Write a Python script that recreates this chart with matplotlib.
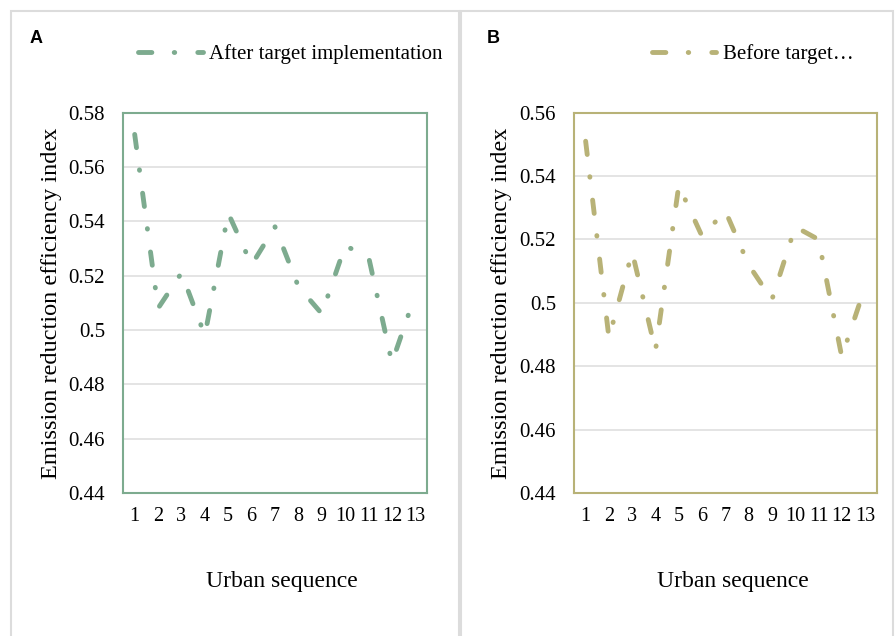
import matplotlib
matplotlib.use("Agg")
import matplotlib.pyplot as plt
from matplotlib.patches import Rectangle

# ---- data ----
urban_seq = list(range(1, 14))
after_vals = [0.572, 0.508, 0.521, 0.498, 0.543, 0.524, 0.538, 0.516, 0.506, 0.531, 0.527, 0.488, 0.513]
before_vals = [0.551, 0.489, 0.516, 0.485, 0.537, 0.521, 0.529, 0.512, 0.501, 0.524, 0.520, 0.483, 0.505]
a_yticks = [0.44, 0.46, 0.48, 0.50, 0.52, 0.54, 0.56, 0.58]
a_yticklabels = ["0.44", "0.46", "0.48", "0.5", "0.52", "0.54", "0.56", "0.58"]
b_yticks = [0.44, 0.46, 0.48, 0.50, 0.52, 0.54, 0.56]
b_yticklabels = ["0.44", "0.46", "0.48", "0.5", "0.52", "0.54", "0.56"]
xticklabels = [str(i) for i in urban_seq]
legend_a = "After target implementation"
legend_b = "Before target\u2026"
ylabel = "Emission reduction efficiency index"
xlabel = "Urban sequence"

W, H = 896, 636
DPI = 100
fig = plt.figure(figsize=(W / DPI, H / DPI), dpi=DPI)
fig.patch.set_facecolor("white")

SERIF = ["Liberation Serif", "DejaVu Serif"]
GREEN = "#7DAB8F"
OLIVE = "#B8B277"
GRID = "#DDDDDD"


def fx(px):
    return px / W


def fy(py):
    return 1 - py / H


# panel borders
for (x0, x1) in [(11, 458.5), (461, 893)]:
    fig.patches.append(Rectangle((fx(x0), fy(660)), fx(x1) - fx(x0), fy(11) - fy(660),
                                 transform=fig.transFigure, fill=False,
                                 edgecolor="#DCDCDC", linewidth=1.5, zorder=0))


def make_panel(left_px, right_px, vals, yticks, yticklabels, color, label, letter,
               letter_x, legend_x, ylabel_x, xlabel_x):
    top_px, bot_px = 112.7, 493
    ax = fig.add_axes([fx(left_px), fy(bot_px), fx(right_px) - fx(left_px), fy(top_px) - fy(bot_px)])
    ax.plot(urban_seq, vals, color=color, linewidth=3.5,
            linestyle=(0, (2.75, 4.6, 0.1, 4.75)), dash_capstyle="round",
            dash_joinstyle="round", label=label, zorder=3)
    ax.set_xlim(0.5, 13.5)
    ax.set_ylim(yticks[0], yticks[-1])
    ax.set_yticks(yticks)
    ax.set_yticklabels(yticklabels, fontfamily=SERIF, fontsize=15)
    ax.set_xticks(urban_seq)
    ax.set_xticklabels(xticklabels, fontfamily=SERIF, fontsize=14.5)
    ax.tick_params(axis="y", length=0, pad=13, colors="#000000")
    ax.tick_params(axis="x", length=0, pad=10, colors="#000000")
    ax.grid(axis="y", color=GRID, linewidth=1.1, zorder=1)
    ax.set_axisbelow(True)
    for s in ax.spines.values():
        s.set_color(color)
        s.set_linewidth(1.5)
    fig.text(fx(ylabel_x), fy((top_px + bot_px) / 2), ylabel, rotation=90,
             ha="center", va="center", fontfamily=SERIF, fontsize=17.5)
    fig.text(fx(xlabel_x), fy(581.7), xlabel, ha="center", va="center",
             fontfamily=SERIF, fontsize=17)
    fig.text(fx(letter_x), fy(38.5), letter, ha="center", va="center",
             fontfamily=["Liberation Sans", "DejaVu Sans"], fontweight="bold", fontsize=13)
    ax.legend(loc="center left", bbox_to_anchor=(fx(legend_x), fy(54)),
              bbox_transform=fig.transFigure, frameon=False, borderpad=0,
              borderaxespad=0, handlelength=3.1, handletextpad=0.3,
              prop={"family": SERIF, "size": 15})
    return ax


make_panel(123, 427, after_vals, a_yticks, a_yticklabels, GREEN, legend_a, "A",
           36, 138, 52, 282)
make_panel(574, 876.7, before_vals, b_yticks, b_yticklabels, OLIVE, legend_b, "B",
           493.5, 651.7, 501, 732.5)

fig.savefig("out.png", dpi=DPI, facecolor="white")
